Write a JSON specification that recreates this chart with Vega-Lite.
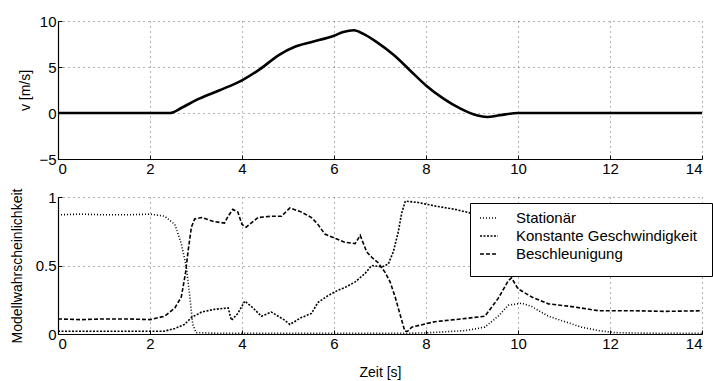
{
  "$schema": "https://vega.github.io/schema/vega-lite/v6.json",
  "padding": {"left": 10, "top": 14, "right": 5, "bottom": 2},
  "spacing": 12,
  "config": {
    "font": "Liberation Sans",
    "view": {"stroke": null},
    "axis": {
      "domainColor": "black",
      "domainWidth": 1.2,
      "tickColor": "black",
      "tickSize": -4,
      "labelColor": "black",
      "labelFontSize": 15,
      "labelFont": "Liberation Sans",
      "titleFont": "Liberation Sans",
      "titleFontSize": 14,
      "titleFontWeight": "normal",
      "titleColor": "black",
      "gridColor": "#555555",
      "gridDash": [1, 4],
      "gridWidth": 1,
      "gridOpacity": 0.9
    }
  },
  "vconcat": [
    {
      "width": 644,
      "height": 138,
      "data": {"values": [
        {"t": 0, "v": 0}, {"t": 1, "v": 0}, {"t": 2, "v": 0}, {"t": 2.43, "v": 0},
        {"t": 2.7, "v": 0.6}, {"t": 3.0, "v": 1.4}, {"t": 3.5, "v": 2.45}, {"t": 4.0, "v": 3.55},
        {"t": 4.4, "v": 4.8}, {"t": 4.8, "v": 6.3}, {"t": 5.15, "v": 7.2}, {"t": 5.5, "v": 7.7},
        {"t": 6.0, "v": 8.4}, {"t": 6.2, "v": 8.8}, {"t": 6.43, "v": 9.0}, {"t": 6.64, "v": 8.6},
        {"t": 6.93, "v": 7.7}, {"t": 7.3, "v": 6.3}, {"t": 7.66, "v": 4.6}, {"t": 8.0, "v": 3.0},
        {"t": 8.38, "v": 1.56}, {"t": 8.75, "v": 0.47}, {"t": 9.1, "v": -0.25}, {"t": 9.33, "v": -0.43},
        {"t": 9.6, "v": -0.25}, {"t": 10.0, "v": 0}, {"t": 12, "v": 0}, {"t": 14, "v": 0}
      ]},
      "mark": {"type": "line", "color": "black", "strokeWidth": 2.6, "interpolate": "monotone"},
      "encoding": {
        "x": {"field": "t", "type": "quantitative", "scale": {"domain": [0, 14], "nice": false},
              "axis": {"values": [0, 2, 4, 6, 8, 10, 12, 14], "title": null, "labelPadding": 6}},
        "y": {"field": "v", "type": "quantitative", "scale": {"domain": [-5, 10], "nice": false},
              "axis": {"values": [-5, 0, 5, 10], "title": "v [m/s]", "titlePadding": 6, "labelPadding": 6}}
      }
    },
    {
      "width": 644,
      "height": 137,
      "data": {"values": [
        {"t": 0, "p": 0.87, "Modell": "Stationär"}, {"t": 0.5, "p": 0.875, "Modell": "Stationär"},
        {"t": 1.0, "p": 0.87, "Modell": "Stationär"}, {"t": 1.5, "p": 0.87, "Modell": "Stationär"},
        {"t": 2.0, "p": 0.875, "Modell": "Stationär"}, {"t": 2.32, "p": 0.86, "Modell": "Stationär"},
        {"t": 2.54, "p": 0.8, "Modell": "Stationär"}, {"t": 2.68, "p": 0.66, "Modell": "Stationär"},
        {"t": 2.79, "p": 0.49, "Modell": "Stationär"}, {"t": 2.86, "p": 0.29, "Modell": "Stationär"},
        {"t": 2.93, "p": 0.07, "Modell": "Stationär"}, {"t": 3.0, "p": 0.01, "Modell": "Stationär"},
        {"t": 3.5, "p": 0.005, "Modell": "Stationär"}, {"t": 5.0, "p": 0.005, "Modell": "Stationär"},
        {"t": 7.5, "p": 0.005, "Modell": "Stationär"}, {"t": 8.0, "p": 0.008, "Modell": "Stationär"},
        {"t": 8.85, "p": 0.025, "Modell": "Stationär"}, {"t": 9.28, "p": 0.05, "Modell": "Stationär"},
        {"t": 9.57, "p": 0.13, "Modell": "Stationär"}, {"t": 9.79, "p": 0.21, "Modell": "Stationär"},
        {"t": 10.08, "p": 0.225, "Modell": "Stationär"}, {"t": 10.3, "p": 0.2, "Modell": "Stationär"},
        {"t": 10.66, "p": 0.13, "Modell": "Stationär"}, {"t": 11.02, "p": 0.09, "Modell": "Stationär"},
        {"t": 11.38, "p": 0.05, "Modell": "Stationär"}, {"t": 11.75, "p": 0.025, "Modell": "Stationär"},
        {"t": 12.1, "p": 0.01, "Modell": "Stationär"}, {"t": 13, "p": 0.005, "Modell": "Stationär"},
        {"t": 14, "p": 0.005, "Modell": "Stationär"},

        {"t": 0, "p": 0.02, "Modell": "Konstante Geschwindigkeit"}, {"t": 1, "p": 0.02, "Modell": "Konstante Geschwindigkeit"},
        {"t": 2, "p": 0.02, "Modell": "Konstante Geschwindigkeit"}, {"t": 2.3, "p": 0.02, "Modell": "Konstante Geschwindigkeit"},
        {"t": 2.54, "p": 0.04, "Modell": "Konstante Geschwindigkeit"}, {"t": 2.75, "p": 0.07, "Modell": "Konstante Geschwindigkeit"},
        {"t": 2.9, "p": 0.12, "Modell": "Konstante Geschwindigkeit"}, {"t": 3.12, "p": 0.16, "Modell": "Konstante Geschwindigkeit"},
        {"t": 3.4, "p": 0.18, "Modell": "Konstante Geschwindigkeit"}, {"t": 3.7, "p": 0.19, "Modell": "Konstante Geschwindigkeit"},
        {"t": 3.77, "p": 0.1, "Modell": "Konstante Geschwindigkeit"}, {"t": 3.91, "p": 0.15, "Modell": "Konstante Geschwindigkeit"},
        {"t": 4.06, "p": 0.24, "Modell": "Konstante Geschwindigkeit"}, {"t": 4.24, "p": 0.19, "Modell": "Konstante Geschwindigkeit"},
        {"t": 4.42, "p": 0.13, "Modell": "Konstante Geschwindigkeit"}, {"t": 4.64, "p": 0.16, "Modell": "Konstante Geschwindigkeit"},
        {"t": 4.93, "p": 0.1, "Modell": "Konstante Geschwindigkeit"}, {"t": 5.04, "p": 0.07, "Modell": "Konstante Geschwindigkeit"},
        {"t": 5.29, "p": 0.12, "Modell": "Konstante Geschwindigkeit"}, {"t": 5.51, "p": 0.15, "Modell": "Konstante Geschwindigkeit"},
        {"t": 5.65, "p": 0.23, "Modell": "Konstante Geschwindigkeit"}, {"t": 5.87, "p": 0.28, "Modell": "Konstante Geschwindigkeit"},
        {"t": 6.09, "p": 0.32, "Modell": "Konstante Geschwindigkeit"}, {"t": 6.24, "p": 0.34, "Modell": "Konstante Geschwindigkeit"},
        {"t": 6.46, "p": 0.38, "Modell": "Konstante Geschwindigkeit"}, {"t": 6.67, "p": 0.44, "Modell": "Konstante Geschwindigkeit"},
        {"t": 6.82, "p": 0.5, "Modell": "Konstante Geschwindigkeit"}, {"t": 7.04, "p": 0.49, "Modell": "Konstante Geschwindigkeit"},
        {"t": 7.18, "p": 0.51, "Modell": "Konstante Geschwindigkeit"}, {"t": 7.29, "p": 0.6, "Modell": "Konstante Geschwindigkeit"},
        {"t": 7.4, "p": 0.75, "Modell": "Konstante Geschwindigkeit"}, {"t": 7.47, "p": 0.88, "Modell": "Konstante Geschwindigkeit"},
        {"t": 7.55, "p": 0.97, "Modell": "Konstante Geschwindigkeit"}, {"t": 7.83, "p": 0.96, "Modell": "Konstante Geschwindigkeit"},
        {"t": 8.19, "p": 0.935, "Modell": "Konstante Geschwindigkeit"}, {"t": 8.63, "p": 0.91, "Modell": "Konstante Geschwindigkeit"},
        {"t": 9.0, "p": 0.88, "Modell": "Konstante Geschwindigkeit"}, {"t": 9.5, "p": 0.75, "Modell": "Konstante Geschwindigkeit"},
        {"t": 9.8, "p": 0.6, "Modell": "Konstante Geschwindigkeit"}, {"t": 10.3, "p": 0.6, "Modell": "Konstante Geschwindigkeit"},
        {"t": 11, "p": 0.72, "Modell": "Konstante Geschwindigkeit"}, {"t": 12, "p": 0.8, "Modell": "Konstante Geschwindigkeit"},
        {"t": 13, "p": 0.82, "Modell": "Konstante Geschwindigkeit"}, {"t": 14, "p": 0.82, "Modell": "Konstante Geschwindigkeit"},

        {"t": 0, "p": 0.11, "Modell": "Beschleunigung"}, {"t": 0.5, "p": 0.105, "Modell": "Beschleunigung"},
        {"t": 1, "p": 0.11, "Modell": "Beschleunigung"}, {"t": 1.5, "p": 0.11, "Modell": "Beschleunigung"},
        {"t": 2, "p": 0.105, "Modell": "Beschleunigung"}, {"t": 2.32, "p": 0.13, "Modell": "Beschleunigung"},
        {"t": 2.54, "p": 0.19, "Modell": "Beschleunigung"}, {"t": 2.68, "p": 0.27, "Modell": "Beschleunigung"},
        {"t": 2.77, "p": 0.44, "Modell": "Beschleunigung"}, {"t": 2.83, "p": 0.61, "Modell": "Beschleunigung"},
        {"t": 2.9, "p": 0.78, "Modell": "Beschleunigung"}, {"t": 2.97, "p": 0.84, "Modell": "Beschleunigung"},
        {"t": 3.12, "p": 0.85, "Modell": "Beschleunigung"}, {"t": 3.4, "p": 0.82, "Modell": "Beschleunigung"},
        {"t": 3.62, "p": 0.81, "Modell": "Beschleunigung"}, {"t": 3.7, "p": 0.86, "Modell": "Beschleunigung"},
        {"t": 3.8, "p": 0.91, "Modell": "Beschleunigung"}, {"t": 3.91, "p": 0.89, "Modell": "Beschleunigung"},
        {"t": 4.0, "p": 0.8, "Modell": "Beschleunigung"}, {"t": 4.09, "p": 0.78, "Modell": "Beschleunigung"},
        {"t": 4.35, "p": 0.85, "Modell": "Beschleunigung"}, {"t": 4.64, "p": 0.86, "Modell": "Beschleunigung"},
        {"t": 4.86, "p": 0.86, "Modell": "Beschleunigung"}, {"t": 5.04, "p": 0.92, "Modell": "Beschleunigung"},
        {"t": 5.29, "p": 0.89, "Modell": "Beschleunigung"}, {"t": 5.51, "p": 0.85, "Modell": "Beschleunigung"},
        {"t": 5.65, "p": 0.8, "Modell": "Beschleunigung"}, {"t": 5.8, "p": 0.73, "Modell": "Beschleunigung"},
        {"t": 6.01, "p": 0.7, "Modell": "Beschleunigung"}, {"t": 6.23, "p": 0.67, "Modell": "Beschleunigung"},
        {"t": 6.46, "p": 0.66, "Modell": "Beschleunigung"}, {"t": 6.57, "p": 0.72, "Modell": "Beschleunigung"},
        {"t": 6.71, "p": 0.6, "Modell": "Beschleunigung"}, {"t": 6.82, "p": 0.56, "Modell": "Beschleunigung"},
        {"t": 6.96, "p": 0.52, "Modell": "Beschleunigung"}, {"t": 7.11, "p": 0.45, "Modell": "Beschleunigung"},
        {"t": 7.22, "p": 0.38, "Modell": "Beschleunigung"}, {"t": 7.33, "p": 0.27, "Modell": "Beschleunigung"},
        {"t": 7.43, "p": 0.15, "Modell": "Beschleunigung"}, {"t": 7.54, "p": 0.02, "Modell": "Beschleunigung"},
        {"t": 7.6, "p": 0.02, "Modell": "Beschleunigung"}, {"t": 7.69, "p": 0.05, "Modell": "Beschleunigung"},
        {"t": 8.19, "p": 0.09, "Modell": "Beschleunigung"}, {"t": 8.77, "p": 0.11, "Modell": "Beschleunigung"},
        {"t": 9.28, "p": 0.13, "Modell": "Beschleunigung"}, {"t": 9.57, "p": 0.26, "Modell": "Beschleunigung"},
        {"t": 9.79, "p": 0.39, "Modell": "Beschleunigung"}, {"t": 9.86, "p": 0.41, "Modell": "Beschleunigung"},
        {"t": 10.0, "p": 0.33, "Modell": "Beschleunigung"}, {"t": 10.3, "p": 0.27, "Modell": "Beschleunigung"},
        {"t": 10.66, "p": 0.22, "Modell": "Beschleunigung"}, {"t": 11.17, "p": 0.2, "Modell": "Beschleunigung"},
        {"t": 11.75, "p": 0.17, "Modell": "Beschleunigung"}, {"t": 12.5, "p": 0.17, "Modell": "Beschleunigung"},
        {"t": 13.2, "p": 0.165, "Modell": "Beschleunigung"}, {"t": 14, "p": 0.17, "Modell": "Beschleunigung"}
      ]},
      "mark": {"type": "line", "color": "black", "strokeWidth": 1.6},
      "encoding": {
        "x": {"field": "t", "type": "quantitative", "scale": {"domain": [0, 14], "nice": false},
              "axis": {"values": [0, 2, 4, 6, 8, 10, 12, 14], "title": "Zeit [s]", "titlePadding": 14, "labelPadding": 6}},
        "y": {"field": "p", "type": "quantitative", "scale": {"domain": [0, 1], "nice": false},
              "axis": {"values": [0, 0.5, 1], "format": "~g", "title": "Modellwahrscheinlichkeit", "titlePadding": 11, "labelPadding": 6}},
        "strokeDash": {
          "field": "Modell", "type": "nominal",
          "sort": ["Stationär", "Konstante Geschwindigkeit", "Beschleunigung"],
          "scale": {"domain": ["Stationär", "Konstante Geschwindigkeit", "Beschleunigung"], "range": [[1, 2], [2, 1.5], [4, 2]]},
          "legend": {
            "orient": "none", "legendX": 412, "legendY": 182,
            "title": " ", "titleOrient": "right", "titleFontSize": 63, "titlePadding": 10,
            "titleBaseline": "top", "titleAnchor": "start",
            "fillColor": "white", "strokeColor": "black",
            "padding": 5, "symbolType": "stroke", "symbolSize": 324, "symbolStrokeColor": "black",
            "symbolStrokeWidth": 1.5, "symbolOffset": 4, "labelOffset": 17,
            "labelFontSize": 15, "labelColor": "black", "labelFont": "Liberation Sans",
            "rowPadding": 0, "labelLimit": 300
          }
        }
      }
    }
  ]
}
